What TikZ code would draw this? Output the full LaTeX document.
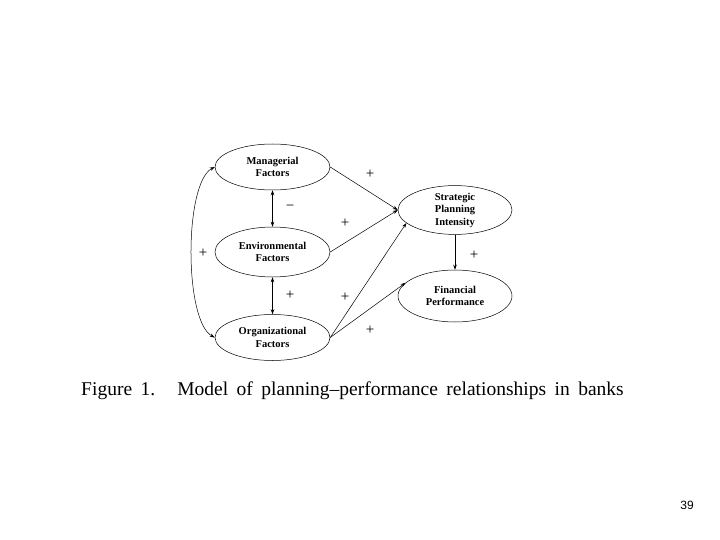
\documentclass[tikz,border=0pt]{standalone}
\usepackage{fontspec}
\setmainfont{Liberation Serif}
\newfontfamily\numfont{Liberation Sans}
\usetikzlibrary{arrows.meta,shapes.geometric}
\begin{document}
\begin{tikzpicture}[x=1pt,y=-1pt,
  factor/.style={ellipse,draw,line width=0.5pt,minimum width=115pt,minimum height=46pt,inner sep=0pt,
    align=center,font=\fontsize{10.5}{12.5}\selectfont\bfseries},
  conn/.style={line width=0.5pt,-{Stealth[length=5pt,width=3.5pt]}},
  both/.style={line width=0.5pt,{Stealth[length=5pt,width=3.5pt]}-{Stealth[length=5pt,width=3.5pt]}},
  sign/.style={font=\fontsize{15}{15}\selectfont,inner sep=0pt}]
\useasboundingbox (0,0) rectangle (720,540);
\node[factor] (m) at (272.5,167) {Managerial\\Factors};
\node[factor,minimum height=50pt] (e) at (272.5,252) {Environmental\\Factors};
\node[factor] (o) at (272.5,337.5) {Organizational\\Factors};
\node[factor,minimum width=114pt,minimum height=48pt] (s) at (455,210) {Strategic\\Planning\\Intensity};
\node[factor,minimum width=114pt,minimum height=52pt] (f) at (455,296) {Financial\\Performance};
\draw[both] (m.west) .. controls (184,183) and (184,321) .. (o.west);
\draw[both] (m.south) -- (e.north);
\draw[both] (e.south) -- (o.north);
\draw[conn] (m.east) -- (s.west);
\draw[conn] (e.east) -- (s.west);
\draw[conn] (o.east) -- (s.-165);
\draw[conn] (o.east) -- (f.165);
\draw[conn] (s.south) -- (f.north);
\node[sign] (l1) at (203,253) {+};
\node[sign] (l2) at (290,208) {−};
\node[sign] (l3) at (290,295) {+};
\node[sign] (l4) at (370,174) {+};
\node[sign] (l5) at (345,223) {+};
\node[sign] (l6) at (345,297) {+};
\node[sign] (l7) at (370,330) {+};
\node[sign] (l8) at (474,255) {+};
\node[font=\fontsize{19.5}{19.5}\selectfont,inner sep=0pt] (cap) at (352.5,391) {\spaceskip=8.5pt Figure 1.\hspace{22pt}Model of planning–performance relationships in banks};
\node[font=\numfont\fontsize{12}{12}\selectfont,inner sep=0pt] (pg) at (687,505) {39};
\end{tikzpicture}
\end{document}
